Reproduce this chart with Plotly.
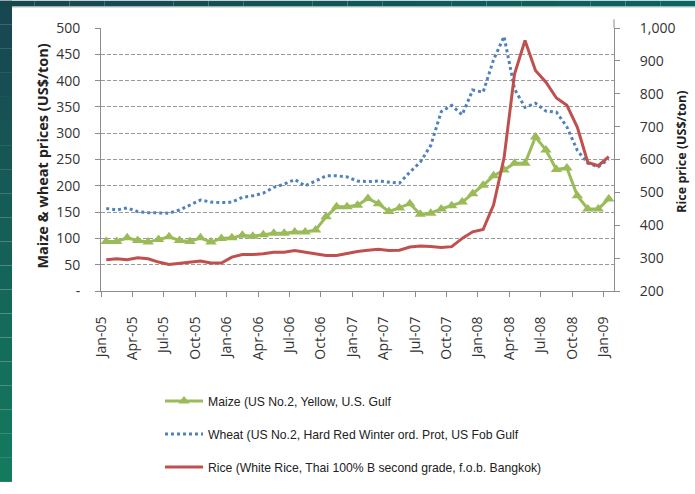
import plotly.graph_objects as go

# Monthly prices, Jan-05 .. Jan-09 (US$/ton)
months = [f"{m}-{y:02d}" for y in range(5, 10) for m in
          ["Jan", "Feb", "Mar", "Apr", "May", "Jun", "Jul", "Aug", "Sep", "Oct", "Nov", "Dec"]][:49]

maize = [94, 94, 101, 96, 93, 98, 103, 96, 94, 101, 93, 100,
         101, 106, 104, 107, 110, 110, 112, 112, 116, 141, 160, 160,
         163, 176, 166, 151, 158, 166, 146, 148, 156, 162, 169, 185,
         201, 219, 230, 243, 243, 293, 268, 231, 234, 181, 156, 156,
         175]

wheat = [157, 154, 158, 151, 149, 149, 148, 154, 163, 173, 169, 168,
         169, 178, 181, 186, 197, 203, 212, 200, 209, 219, 219, 217,
         209, 208, 209, 207, 205, 226, 245, 277, 341, 353, 335, 382,
         378, 440, 484, 384, 349, 357, 342, 340, 312, 267, 243, 236,
         251]

rice = [295, 298, 295, 301, 298, 288, 281, 285, 288, 291, 285, 285,
        303, 311, 311, 313, 318, 318, 323, 318, 313, 308, 308, 315,
        320, 324, 327, 323, 324, 334, 337, 335, 332, 335, 360, 380,
        387, 462, 605, 860, 962, 871, 835, 787, 765, 698, 591, 581,
        609]

tick_labels = ["Jan-05", "Apr-05", "Jul-05", "Oct-05", "Jan-06", "Apr-06", "Jul-06",
               "Oct-06", "Jan-07", "Apr-07", "Jul-07", "Oct-07", "Jan-08", "Apr-08",
               "Jul-08", "Oct-08", "Jan-09"]

left_ticks = list(range(0, 501, 50))
left_text = ["-"] + [str(v) for v in left_ticks[1:]]
right_ticks = list(range(200, 1001, 100))

x = list(range(len(months)))
# labels sit on the category boundaries, one every quarter
tick_pos = [i * 3 - 0.5 for i in range(len(tick_labels))]

MAIZE_C = "#9BBB59"
WHEAT_C = "#4F81BD"
RICE_C = "#C0504D"

fig = go.Figure()

fig.add_trace(go.Scatter(
    x=x, y=wheat, text=months, name="Wheat (US No.2, Hard Red Winter ord. Prot, US Fob Gulf",
    mode="lines", line=dict(color=WHEAT_C, width=3, dash="3px,3px"),
    legendgroup="w", legendrank=2, hovertemplate="%{text}: %{y}<extra></extra>"))

fig.add_trace(go.Scatter(
    x=x, y=maize, text=months, name="Maize (US No.2, Yellow, U.S. Gulf",
    mode="lines+markers", line=dict(color=MAIZE_C, width=3),
    marker=dict(symbol="triangle-up", size=10, color=MAIZE_C),
    legendgroup="m", legendrank=1, hovertemplate="%{text}: %{y}<extra></extra>"))

fig.add_trace(go.Scatter(
    x=x, y=rice, text=months, name="Rice (White Rice, Thai 100% B second grade, f.o.b. Bangkok)",
    mode="lines", line=dict(color=RICE_C, width=3), yaxis="y2",
    legendgroup="r", legendrank=3, hovertemplate="%{text}: %{y}<extra></extra>"))

# page frame: dark teal bands on the left and top edges
L, W, T, H = 101, 513, 28, 270


def px_x(p):
    return (p - L) / W


def px_y(p):
    return (T + H - p) / H


def mix(c1, c2, t):
    a = [int(c1[i:i + 2], 16) for i in (1, 3, 5)]
    b = [int(c2[i:i + 2], 16) for i in (1, 3, 5)]
    return "#" + "".join(f"{round(a[i] + (b[i] - a[i]) * t):02x}" for i in range(3))


shapes = []
n = 20
for i in range(n):
    y0, y1 = 494 * i / n, 494 * (i + 1) / n
    shapes.append(dict(type="rect", xref="paper", yref="paper", layer="below",
                       x0=px_x(0), x1=px_x(12), y0=px_y(y1), y1=px_y(y0),
                       fillcolor=mix("#184651", "#137a5e", i / (n - 1)), line=dict(width=0)))
for i in range(n):
    x0, x1 = 695 * i / n, 695 * (i + 1) / n
    shapes.append(dict(type="rect", xref="paper", yref="paper", layer="below",
                       x0=px_x(x0), x1=px_x(x1), y0=px_y(6), y1=px_y(0),
                       fillcolor=mix("#17464f", "#0c6460", i / (n - 1)), line=dict(width=0)))
shapes.append(dict(type="line", xref="paper", yref="paper", layer="below",
                   x0=px_x(12), x1=px_x(695), y0=px_y(6.5), y1=px_y(6.5),
                   line=dict(color="#b9c6c6", width=1)))
# right axis line runs a little above the plot top
shapes.append(dict(type="line", xref="paper", yref="paper", layer="below",
                   x0=1, x1=1, y0=1, y1=px_y(19),
                   line=dict(color="#8c8c8c", width=1)))

axis_font = dict(family="Open Sans, DejaVu Sans, sans-serif", size=14, color="#333333")

fig.update_layout(
    width=695, height=494,
    margin=dict(l=L, r=695 - L - W, t=T, b=494 - T - H),
    paper_bgcolor="white", plot_bgcolor="white",
    showlegend=True,
    xaxis=dict(range=[-0.5, len(months) - 0.5], tickmode="array", tickvals=tick_pos,
               ticktext=tick_labels, tickangle=-90, showgrid=False, zeroline=False,
               showline=True, linecolor="#8c8c8c", linewidth=1,
               ticks="outside", ticklen=5, tickcolor="#8c8c8c",
               ticklabelstandoff=14, tickfont=axis_font),
    yaxis=dict(range=[0, 500], tickmode="array", tickvals=left_ticks, ticktext=left_text,
               showgrid=True, gridcolor="#9a9a9a", griddash="4px,2px", gridwidth=1,
               zeroline=False, showline=True, linecolor="#8c8c8c", linewidth=1,
               ticks="outside", ticklen=5, tickcolor="#8c8c8c",
               ticklabelstandoff=12, tickfont=axis_font),
    yaxis2=dict(range=[200, 1000], overlaying="y", side="right", tickmode="array",
                tickvals=right_ticks, tickformat=",d", showgrid=False, zeroline=False,
                showline=True, linecolor="#8c8c8c", linewidth=1,
                ticks="outside", ticklen=5, tickcolor="#8c8c8c",
                ticklabelstandoff=17, tickfont=axis_font),
    legend=dict(x=px_x(160), y=px_y(396), xanchor="left", yanchor="top",
                tracegroupgap=14, itemwidth=38, bgcolor="rgba(0,0,0,0)",
                font=dict(family="Liberation Sans, Arial, sans-serif",
                          size=12.2, color="#222222")),
    shapes=shapes,
    annotations=[
        dict(text="<b>Maize & wheat prices (US$/ton)</b>", textangle=-90,
             xref="paper", yref="paper", x=px_x(43), y=px_y(160),
             xanchor="center", yanchor="middle", showarrow=False,
             font=dict(family="Open Sans, DejaVu Sans, sans-serif", size=14.5, color="#222222")),
        dict(text="<b>Rice price (US$/ton)</b>", textangle=-90,
             xref="paper", yref="paper", x=px_x(682), y=px_y(155),
             xanchor="center", yanchor="middle", showarrow=False,
             font=dict(family="Open Sans, DejaVu Sans, sans-serif", size=12.5, color="#222222")),
    ],
)

fig.write_html("out.html")
